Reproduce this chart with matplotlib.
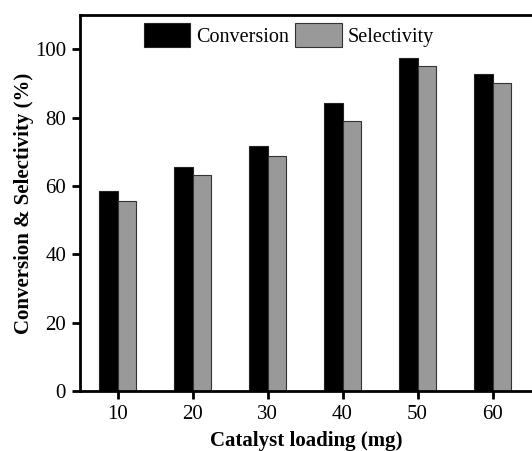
import matplotlib
matplotlib.use('Agg')
import matplotlib.pyplot as plt
import numpy as np

# Данные
loading = [10, 20, 30, 40, 50, 60]
conversion = [58.5, 65.5, 71.6, 84.2, 97.4, 92.6]
selectivity = [55.6, 63.1, 68.7, 79.1, 95.1, 90.1]
y_ticks = [0, 20, 40, 60, 80, 100]

plt.rcParams['font.family'] = 'Liberation Serif'
plt.rcParams['font.size'] = 15

fig = plt.figure(figsize=(5.32, 4.51), dpi=100)
ax = fig.add_axes([80 / 532, 1 - 391 / 451, 1 - 80 / 532, (391 - 15) / 451])

x = np.array(loading)
w = 2.5
ax.bar(x - w, conversion, width=w, align='edge', color='black',
       edgecolor='#222222', linewidth=0.8, label='Conversion')
ax.bar(x, selectivity, width=w, align='edge', color='#999999',
       edgecolor='#333333', linewidth=0.8, label='Selectivity')

ax.set_xlim(5, 5 + 452 / 7.5)
ax.set_ylim(0, 110)
ax.set_xticks(loading)
ax.set_yticks(y_ticks)

for s in ['left', 'bottom', 'top']:
    ax.spines[s].set_linewidth(2)
ax.spines['right'].set_visible(False)
ax.tick_params(direction='out', length=6, width=2, labelsize=15, pad=4)

ax.set_xlabel('Catalyst loading (mg)', fontweight='bold', fontsize=15, labelpad=5)
ax.set_ylabel('Conversion & Selectivity (%)', fontweight='bold', fontsize=15, labelpad=0.5)

ax.legend(loc='upper left', bbox_to_anchor=(0.115, 1.01), ncol=2, frameon=False,
          handlelength=2.3, handleheight=1.4, handletextpad=0.3,
          columnspacing=0.3, fontsize=14.5, borderaxespad=0.2)

fig.savefig('out.png', dpi=100)
